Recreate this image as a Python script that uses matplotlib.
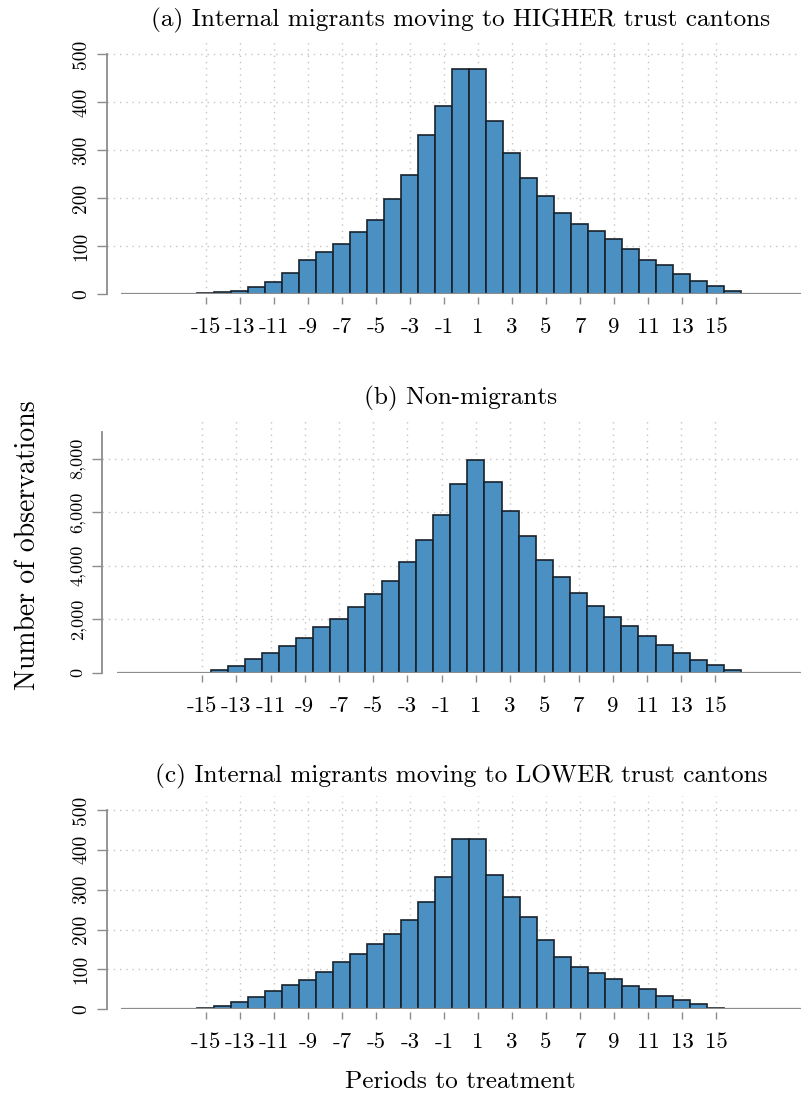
import matplotlib
matplotlib.use("Agg")
import matplotlib.pyplot as plt

plt.rcParams['font.family'] = 'serif'
plt.rcParams['font.serif'] = ['cmr10', 'DejaVu Serif']
plt.rcParams['axes.unicode_minus'] = False
plt.rcParams['mathtext.fontset'] = 'cm'

# periods to treatment (bar centres) and counts
periods_a = [-15, -14, -13, -12, -11, -10, -9, -8, -7, -6, -5, -4, -3, -2, -1, 0,
             1, 2, 3, 4, 5, 6, 7, 8, 9, 10, 11, 12, 13, 14, 15, 16]
counts_a = [2, 4, 7, 16, 25, 44, 71, 89, 105, 130, 155, 198, 249, 331, 391, 469,
            469, 361, 294, 241, 205, 169, 146, 131, 115, 94, 71, 60, 42, 28, 17, 7]

periods_b = [-14, -13, -12, -11, -10, -9, -8, -7, -6, -5, -4, -3, -2, -1, 0,
             1, 2, 3, 4, 5, 6, 7, 8, 9, 10, 11, 12, 13, 14, 15, 16]
counts_b = [112, 262, 523, 748, 1009, 1308, 1695, 2019, 2442, 2928, 3427, 4124, 4959,
            5894, 7040, 7950, 7140, 6056, 5096, 4224, 3564, 2978, 2504, 2093, 1732,
            1358, 1022, 748, 486, 274, 100]

periods_c = [-15, -14, -13, -12, -11, -10, -9, -8, -7, -6, -5, -4, -3, -2, -1, 0,
             1, 2, 3, 4, 5, 6, 7, 8, 9, 10, 11, 12, 13, 14, 15]
counts_c = [4, 8, 18, 30, 47, 62, 73, 94, 119, 138, 165, 188, 223, 268, 332, 428,
            428, 337, 281, 231, 175, 131, 106, 92, 77, 58, 51, 33, 23, 14, 4]

xticks = [-15, -13, -11, -9, -7, -5, -3, -1, 1, 3, 5, 7, 9, 11, 13, 15]
yticks_small = [0, 100, 200, 300, 400, 500]
yticks_b = [0, 2000, 4000, 6000, 8000]
ylabels_b = ['0', '2,000', '4,000', '6,000', '8,000']

titles = ['(a) Internal migrants moving to HIGHER trust cantons',
          '(b) Non-migrants',
          '(c) Internal migrants moving to LOWER trust cantons']

BAR = '#4a90c2'
EDGE = '#18212b'
AXC = '#8c8c8c'
GRID = '#c4c4c4'

W, H = 801, 1099
fig = plt.figure(figsize=(W / 100, H / 100), dpi=100)


def px_axes(left, top, bottom):
    return fig.add_axes([left / W, 1 - bottom / H, (W - left) / W, (bottom - top) / H])


def style_panel(ax, periods, counts, xlo, ytop, spine_top, yticks, ylabels, ysize):
    ax.set_xlim(xlo, 20)
    ax.set_ylim(0, ytop)
    for x in xticks:
        ax.plot([x, x], [0, ytop], color=GRID, lw=1.0, ls=(0, (1, 3.5)), zorder=0)
    for y in yticks[1:]:
        ax.plot([xlo, 20], [y, y], color=GRID, lw=1.0, ls=(0, (1, 3.5)), zorder=0)
    ax.bar(periods, counts, width=1.0, color=BAR, edgecolor=EDGE, linewidth=1.2, zorder=2)
    ax.hlines(0, -20, 20, color=AXC, lw=1.6, zorder=3)

    for s in ['top', 'right']:
        ax.spines[s].set_visible(False)
    ax.spines['bottom'].set_visible(False)
    ax.spines['bottom'].set_position(('outward', 1.8))
    ax.spines['left'].set_color(AXC)
    ax.spines['left'].set_linewidth(1.3)
    ax.spines['left'].set_bounds(0, spine_top)

    ax.set_xticks(xticks)
    ax.set_xticklabels([str(t) for t in xticks])
    ax.tick_params(axis='x', length=5, width=1.0, color=AXC, pad=10, labelsize=16.5)
    ax.set_yticks(yticks)
    ax.set_yticklabels(ylabels)
    ax.tick_params(axis='y', length=7, width=1.0, color=AXC, pad=5, labelsize=ysize,
                   labelrotation=90)
    for lbl in ax.get_yticklabels():
        lbl.set_va('center')


ax_a = px_axes(107, 39, 294.3)
style_panel(ax_a, periods_a, counts_a, -20.82, 531, 500, yticks_small,
            [str(t) for t in yticks_small], 14)

ax_b = px_axes(102.3, 418, 672.7)
style_panel(ax_b, periods_b, counts_b, -20.83, 9520, 8985, yticks_b, ylabels_b, 13)

ax_c = px_axes(107, 796, 1009.3)
style_panel(ax_c, periods_c, counts_c, -20.82, 535, 500, yticks_small,
            [str(t) for t in yticks_small], 14)

title_y = [20, 398, 776]
for t, y in zip(titles, title_y):
    fig.text(461 / W, 1 - y / H, t, ha='center', va='center', fontsize=18.2)

fig.text(28 / W, 1 - 545 / H, 'Number of observations', rotation=90,
         ha='center', va='center', fontsize=20)
fig.text(460 / W, 1 - 1082 / H, 'Periods to treatment', ha='center', va='center',
         fontsize=18.2)

fig.savefig('out.png', dpi=100)
